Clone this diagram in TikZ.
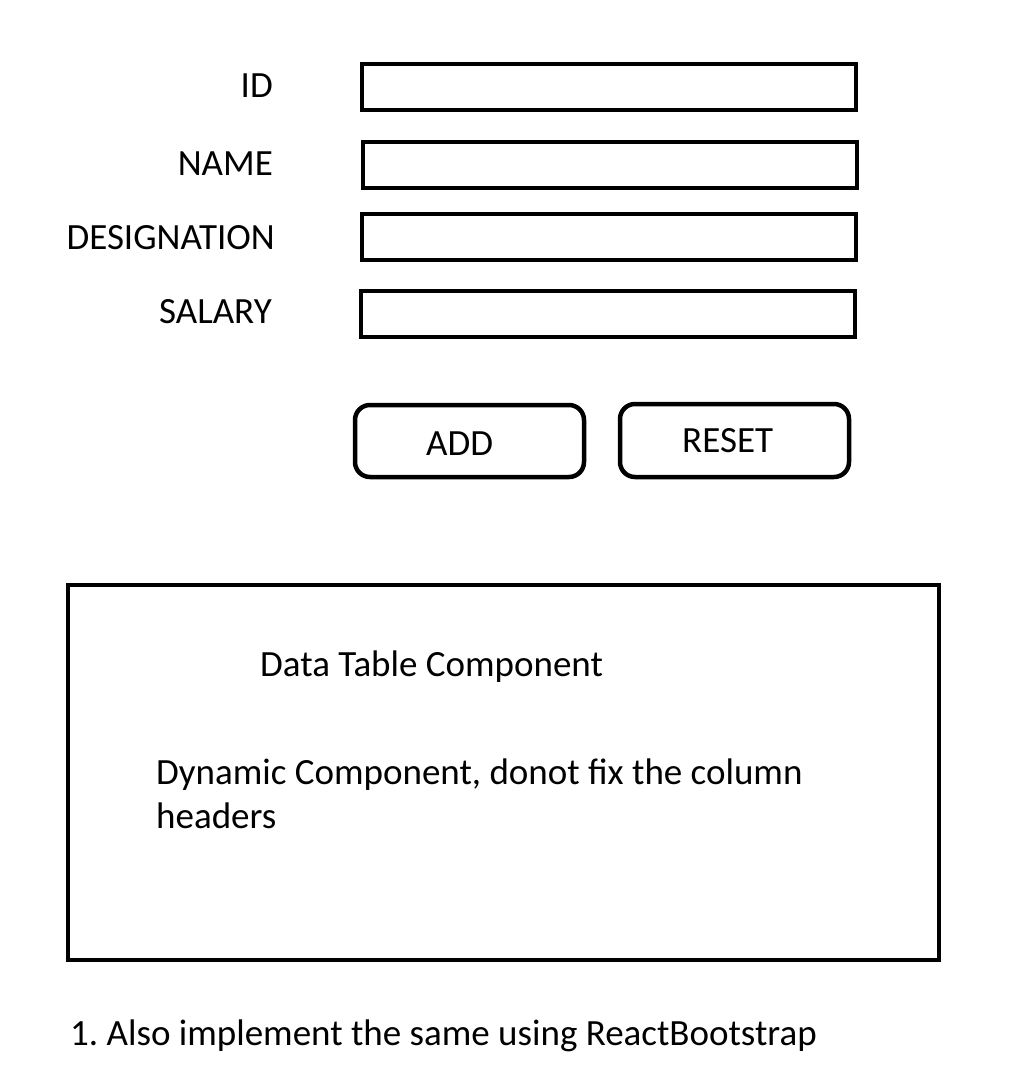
\documentclass[tikz,border=0pt]{standalone}
\usepackage{fontspec}
\setmainfont{Carlito}
\frenchspacing
\begin{document}
\begin{tikzpicture}[x=1pt,y=-1pt,
  lbl/.style={anchor=base east,inner sep=0pt,font=\fontsize{37}{44}\selectfont},
  txt/.style={anchor=base west,inner sep=0pt,font=\fontsize{37}{44}\selectfont},
  field/.style={draw,line width=4.5pt},
  btn/.style={draw,line width=4.5pt,rounded corners=15pt}]
\useasboundingbox (0,0) rectangle (1029,1076);
\node[lbl] (lid) at (273,97) {ID};
\node[lbl] (lname) at (273,175) {NAME};
\node[lbl] (ldes) at (275,249) {DESIGNATION};
\node[lbl] (lsal) at (272,323) {SALARY};
\draw[field] (362,64) rectangle (856,110);
\draw[field] (363,142) rectangle (857,188);
\draw[field] (362,214) rectangle (856,260);
\draw[field] (361,291) rectangle (855,337);
\draw[btn] (355,405) rectangle (584,477);
\draw[btn] (620,404) rectangle (849,477);
\node[txt] (add) at (426,455) {ADD};
\node[txt] (reset) at (682,452) {RESET};
\draw[field] (68,585) rectangle (939,960);
\node[txt] (dtc) at (260,676) {Data Table Component};
\node[txt] (dyn) at (156,784) {Dynamic Component, donot fix the column};
\node[txt] (hdr) at (156,828) {headers};
\node[txt] (note) at (70,1045) {1. Also implement the same using ReactBootstrap};
\end{tikzpicture}
\end{document}
